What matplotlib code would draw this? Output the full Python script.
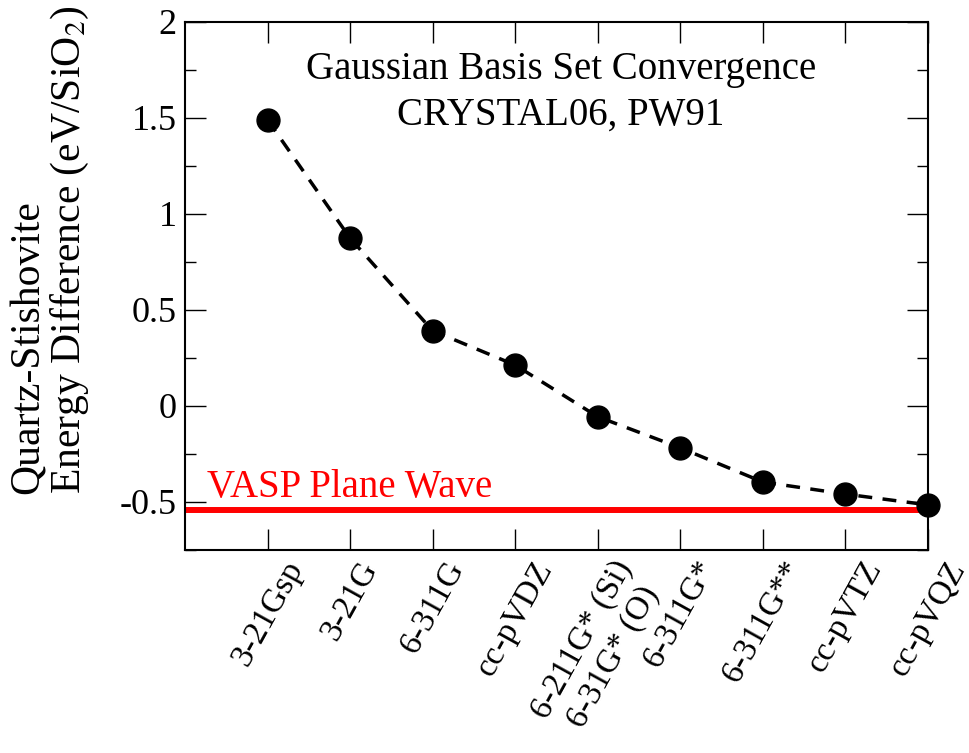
import matplotlib.pyplot as plt
import numpy as np

basis_sets = ["3-21Gsp", "3-21G", "6-311G", "cc-pVDZ", "6-211G* (Si)\n6-31G* (O)",
              "6-311G*", "6-311G**", "cc-pVTZ", "cc-pVQZ"]
energy_diff = [1.49, 0.874, 0.392, 0.213, -0.056, -0.218, -0.396, -0.459, -0.515]
vasp_value = -0.541

plt.rcParams['font.family'] = ['Liberation Serif', 'DejaVu Serif']
plt.rcParams['mathtext.fontset'] = 'stix'

fig = plt.figure(figsize=(9.7, 7.53), dpi=100)
ax = fig.add_axes([0.1907, 0.2696, 0.7660, 0.7012])

x = np.arange(1, len(basis_sets) + 1)
ax.plot([0, len(basis_sets)], [vasp_value, vasp_value], color='red', lw=4.3, zorder=2)
ax.plot(x, energy_diff, color='black', lw=2.5, ls=(0, (4, 3)), marker='o',
        markersize=16.5, markerfacecolor='black', markeredgecolor='black', zorder=3,
        clip_on=False)

ax.set_xlim(0, len(basis_sets))
ax.set_ylim(-0.7, 2)
ax.set_xticks(x)
ax.set_xticklabels(basis_sets, rotation=61, ha='center', va='top', fontsize=24)
ax.set_yticks([-0.5, 0, 0.5, 1, 1.5, 2])
ax.set_yticklabels(["-0.5", "0", "0.5", "1", "1.5", "2"], fontsize=26)
ax.set_yticks(np.arange(-0.75, 2.01, 0.25), minor=True)

ax.tick_params(which='major', direction='in', length=15, width=1.0, top=True, right=True)
ax.tick_params(which='minor', direction='in', length=8, width=1.0, top=True, right=True)
ax.tick_params(axis='x', pad=4)
ax.tick_params(axis='y', pad=6)
for s in ax.spines.values():
    s.set_linewidth(1.5)

# y label sits above the axes centre in the original, lines left-aligned
fig.text(50 / 970, 1 - 250 / 753, "Quartz-Stishovite\nEnergy Difference (eV/SiO$_2$)",
         rotation=90, ha='center', va='center', multialignment='left',
         fontsize=30, linespacing=1.05)

ax.text(0.506, 0.892, "Gaussian Basis Set Convergence", transform=ax.transAxes,
        ha='center', va='baseline', fontsize=28)
ax.text(0.506, 0.805, "CRYSTAL06, PW91", transform=ax.transAxes,
        ha='center', va='baseline', fontsize=28)
ax.text(0.266, -0.473, "VASP Plane Wave", color='red', fontsize=28, ha='left', va='baseline')

fig.savefig("out.png", dpi=100)
